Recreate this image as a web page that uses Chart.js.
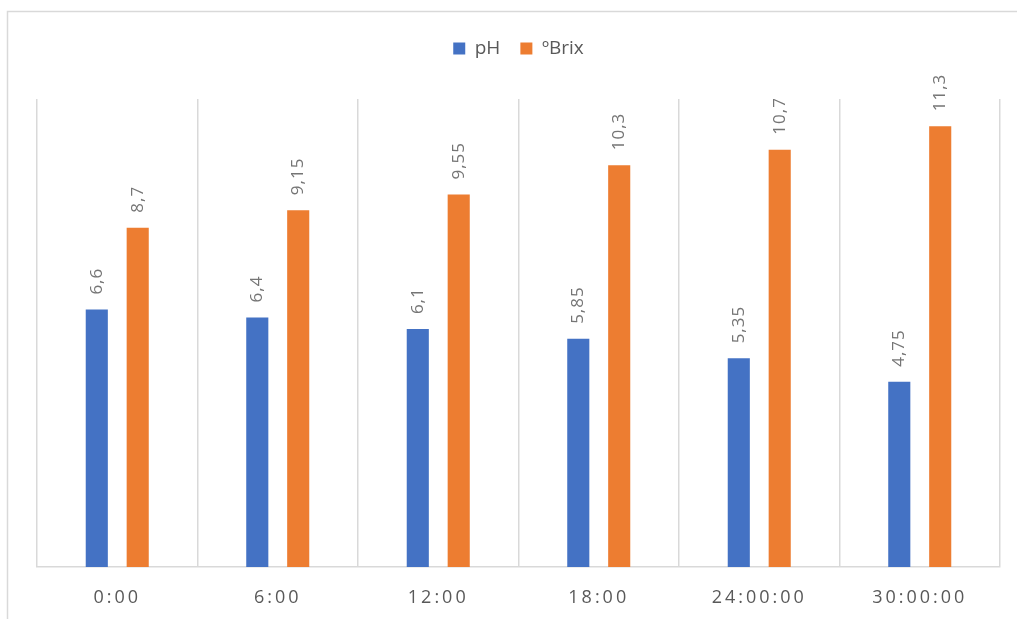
<!DOCTYPE html>
<html>
<head>
<meta charset="utf-8">
<script src="https://cdn.jsdelivr.net/npm/chart.js@4/dist/chart.umd.min.js"></script>
<style>
  html, body { margin: 0; padding: 0; background: #fff; }
  #wrap { width: 1017px; height: 619px; position: relative; }
</style>
</head>
<body>
<div id="wrap"><canvas id="chart"></canvas></div>
<script>
const categories = ["0:00", "6:00", "12:00", "18:00", "24:00:00", "30:00:00"];
const phValues = [6.6, 6.4, 6.1, 5.85, 5.35, 4.75];
const brixValues = [8.7, 9.15, 9.55, 10.3, 10.7, 11.3];

const FONT = "'Open Sans', 'Noto Sans', sans-serif";

// marco exterior (izquierda y arriba)
const framePlugin = {
    id: "frame",
    afterInit(chart) {
        // espacio extra bajo la leyenda
        const fit = chart.legend.fit;
        chart.legend.fit = function () {
            fit.call(this);
            this.height += 31;
        };
    },
    beforeDraw(chart) {
        const ctx = chart.ctx;
        ctx.save();
        ctx.strokeStyle = "#d9d9d9";
        ctx.lineWidth = 1.5;
        ctx.beginPath();
        ctx.moveTo(7.5, 619);
        ctx.lineTo(7.5, 11.5);
        ctx.lineTo(1017, 11.5);
        ctx.stroke();
        ctx.restore();
    }
};

// etiquetas de datos giradas
const labelPlugin = {
    id: "barLabels",
    afterDatasetsDraw(chart) {
        const ctx = chart.ctx;
        ctx.save();
        ctx.font = "17px " + FONT;
        ctx.letterSpacing = "1px";
        ctx.fillStyle = "#757575";
        ctx.textAlign = "left";
        ctx.textBaseline = "middle";
        chart.data.datasets.forEach((ds, i) => {
            chart.getDatasetMeta(i).data.forEach((bar, j) => {
                const txt = String(ds.data[j]).replace(".", ",");
                ctx.save();
                ctx.translate(bar.x, bar.y - 15);
                ctx.rotate(-Math.PI / 2);
                ctx.fillText(txt, 0, 0);
                ctx.restore();
            });
        });
        ctx.restore();
    }
};

new Chart(document.getElementById("chart"), {
    type: "bar",
    data: {
        labels: categories,
        datasets: [
            { label: "pH", data: phValues, backgroundColor: "#4472C4" },
            { label: "ºBrix", data: brixValues, backgroundColor: "#ED7D31" }
        ]
    },
    options: {
        responsive: true,
        maintainAspectRatio: false,
        animation: false,
        categoryPercentage: 0.51,
        barPercentage: 0.54,
        layout: { padding: { left: 37, right: 17, top: 19, bottom: 0 } },
        plugins: {
            tooltip: { enabled: false },
            legend: {
                position: "top",
                labels: {
                    boxWidth: 12,
                    boxHeight: 12,
                    padding: 20,
                    color: "#595959",
                    font: { family: FONT, size: 19 }
                }
            }
        },
        scales: {
            x: {
                grid: { color: "#d9d9d9", lineWidth: 1.5, drawTicks: false, offset: true },
                border: { color: "#d9d9d9", width: 1.5 },
                ticks: {
                    color: "#595959",
                    padding: 20,
                    font: { family: FONT, size: 18 }
                },
                afterFit(scale) { scale.height = 52; },
                afterUpdate(scale) {
                    if (scale._spaced) return;
                    scale._spaced = true;
                    const orig = scale.drawLabels;
                    scale.drawLabels = function (area) {
                        this.ctx.save();
                        this.ctx.letterSpacing = "3px";
                        orig.call(this, area);
                        this.ctx.restore();
                    };
                }
            },
            y: {
                display: false,
                min: 0,
                max: 12
            }
        }
    },
    plugins: [framePlugin, labelPlugin]
});
</script>
</body>
</html>
